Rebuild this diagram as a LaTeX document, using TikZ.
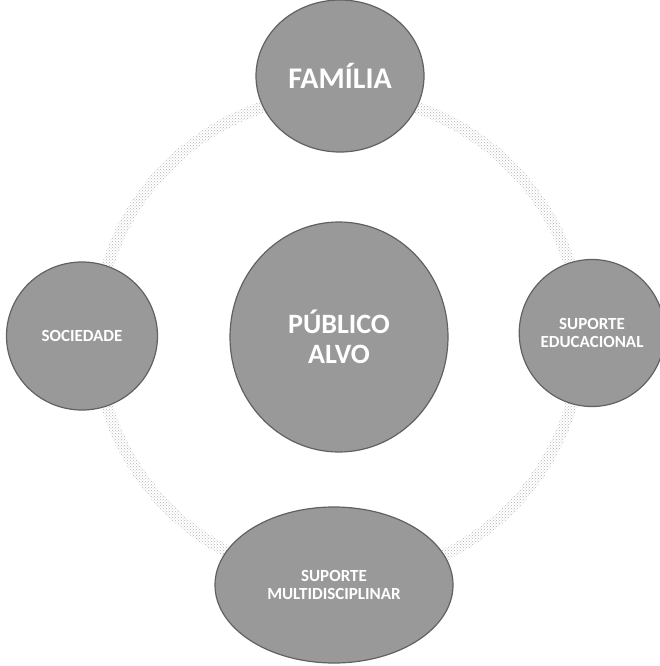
\documentclass[tikz,border=0pt]{standalone}
\usepackage{fontspec}
\setmainfont{Carlito}
\usepackage{tikz}
\usetikzlibrary{shapes.geometric, patterns}

\begin{document}
\begin{tikzpicture}[x=1pt,y=-1pt,
        bubble/.style={ellipse,inner sep=0pt,fill=black!40,draw=black!62,line width=1.2pt,
            text=white,font=\bfseries\fontsize{17}{18}\selectfont,align=center},
        ringdots/.style={pattern=crosshatch dots,pattern color=black!30,even odd rule}]
        % picture area, in pixels of the reference
        \useasboundingbox (0,0) rectangle (659,666);
        \coordinate (mid) at (339,337);
        % dotted ring behind the bubbles
        \fill[ringdots] (mid) circle[radius=248pt] circle[radius=236pt];
        \node[bubble,minimum width=218pt,minimum height=230pt,font=\bfseries\fontsize{28}{30}\selectfont](alvo) at (mid){PÚBLICO\\ALVO};
        \node[bubble,minimum width=168pt,minimum height=152pt,font=\bfseries\fontsize{30}{30}\selectfont](familia) at (340,76){\raisebox{-7pt}{FAMÍLIA}};
        \node[bubble,minimum width=151pt,minimum height=148pt](sociedade) at (82,336){SOCIEDADE};
        \node[bubble,minimum width=144pt,minimum height=147pt](educ) at (592,333){SUPORTE\\EDUCACIONAL};
        \node[bubble,minimum width=238pt,minimum height=156pt](multi) at (334,585){SUPORTE\\MULTIDISCIPLINAR};
\end{tikzpicture}
\end{document}
